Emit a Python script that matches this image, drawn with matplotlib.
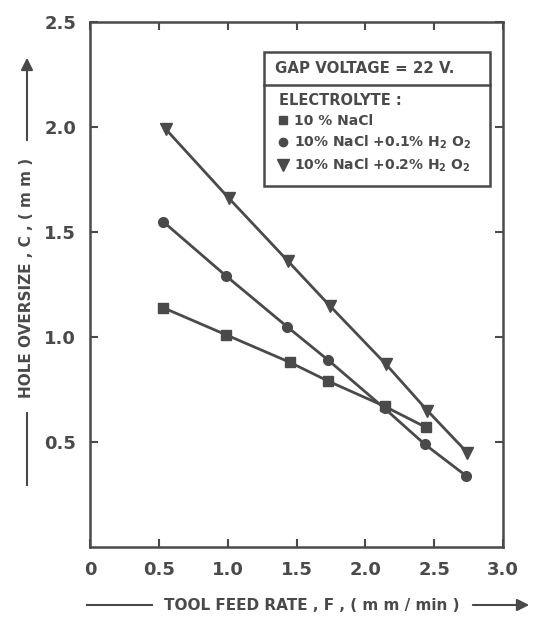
import numpy as np
import matplotlib
matplotlib.use("Agg")
import matplotlib.pyplot as plt
from matplotlib.lines import Line2D
from matplotlib.patches import Rectangle

# tool feed rate F (mm/min)
feed_sq = [0.53, 0.99, 1.45, 1.73, 2.14, 2.44]
feed_ci = [0.53, 0.99, 1.43, 1.73, 2.14, 2.43, 2.73]
feed_tr = [0.55, 1.01, 1.44, 1.74, 2.15, 2.45, 2.74]

# hole oversize C (mm)
over_nacl = [1.14, 1.01, 0.88, 0.79, 0.67, 0.57]
over_h2o2_01 = [1.55, 1.29, 1.05, 0.89, 0.66, 0.49, 0.34]
over_h2o2_02 = [1.99, 1.66, 1.36, 1.15, 0.87, 0.65, 0.45]

labels = ["10 % NaCl",
          r"10% NaCl +0.1% H$_\mathbf{2}$ O$_\mathbf{2}$",
          r"10% NaCl +0.2% H$_\mathbf{2}$ O$_\mathbf{2}$"]

xticks = [0, 0.5, 1.0, 1.5, 2.0, 2.5, 3.0]
xticklabels = ["0", "0.5", "1.0", "1.5", "2.0", "2.5", "3.0"]
yticks = [0.5, 1.0, 1.5, 2.0, 2.5]
yticklabels = ["0.5", "1.0", "1.5", "2.0", "2.5"]

ink = "#4a4a4a"
plt.rcParams["font.family"] = ["DejaVu Sans"]
plt.rcParams["font.weight"] = "bold"
plt.rcParams["mathtext.default"] = "bf"

W, H = 535, 618
fig = plt.figure(figsize=(W / 100, H / 100), dpi=100)
fig.patch.set_facecolor("white")
L, R, T, B = 90, 503, 22, 547
ax = fig.add_axes([L / W, 1 - B / H, (R - L) / W, (B - T) / H])

lw = 2.0
ax.plot(feed_sq, over_nacl, color=ink, lw=lw, marker="s", ms=7)
ax.plot(feed_ci, over_h2o2_01, color=ink, lw=lw, marker="o", ms=7)
ax.plot(feed_tr, over_h2o2_02, color=ink, lw=lw, marker="v", ms=9)

ax.set_xlim(0, 3.0)
ax.set_ylim(0, 2.5)
ax.set_xticks(xticks)
ax.set_xticklabels(xticklabels)
ax.set_yticks(yticks)
ax.set_yticklabels(yticklabels)
ax.tick_params(direction="in", length=6, width=1.5, colors=ink,
               labelsize=13, top=True, right=True, pad=10)
for s in ax.spines.values():
    s.set_color(ink)
    s.set_linewidth(1.8)

# legend box
x0, x1, yb, yd, yt = 0.421, 0.969, 0.688, 0.880, 0.943
ax.add_patch(Rectangle((x0, yb), x1 - x0, yt - yb, transform=ax.transAxes,
                       fill=False, ec=ink, lw=1.8, zorder=5))
ax.plot([x0, x1], [yd, yd], transform=ax.transAxes, color=ink, lw=1.8)
ax.text(0.448, 0.911, "GAP VOLTAGE = 22 V.", transform=ax.transAxes,
        fontsize=10.8, color=ink, va="center")

handles = [Line2D([], [], ls="none", marker=m, ms=s, color=ink)
           for m, s in [("s", 6), ("o", 6), ("v", 8)]]
leg = ax.legend(handles, labels, title="ELECTROLYTE :", loc="upper left",
                bbox_to_anchor=(0.43, 0.885), frameon=False, fontsize=10,
                title_fontsize=10.5, handlelength=0.6, handletextpad=0.5,
                labelspacing=0.4, borderpad=0.3, alignment="left")
for t in leg.get_texts():
    t.set_color(ink)
leg.get_title().set_color(ink)
leg.get_title().set_fontweight("bold")

# axis titles with lines and arrows
ly = 1 - 605 / H
fig.add_artist(Line2D([87 / W, 152 / W], [ly, ly], color=ink, lw=1.5))
fig.text(312 / W, ly, "TOOL FEED RATE , F , ( m m / min )", fontsize=11,
         color=ink, ha="center", va="center")
ax.annotate("", xy=(532 / W, ly), xytext=(470 / W, ly), xycoords="figure fraction",
            annotation_clip=False,
            arrowprops=dict(arrowstyle="-|>", color=ink, lw=1.5, mutation_scale=18))

lx = 27 / W
fig.add_artist(Line2D([lx, lx], [1 - 485 / H, 1 - 413 / H], color=ink, lw=1.5))
fig.text(lx, 1 - 278 / H, "HOLE OVERSIZE , C , ( m m )", fontsize=11,
         color=ink, ha="center", va="center", rotation=90)
ax.annotate("", xy=(lx, 1 - 55 / H), xytext=(lx, 1 - 143 / H), xycoords="figure fraction",
            annotation_clip=False,
            arrowprops=dict(arrowstyle="-|>", color=ink, lw=1.5, mutation_scale=18))

fig.savefig("out.png", dpi=100, facecolor="white")
